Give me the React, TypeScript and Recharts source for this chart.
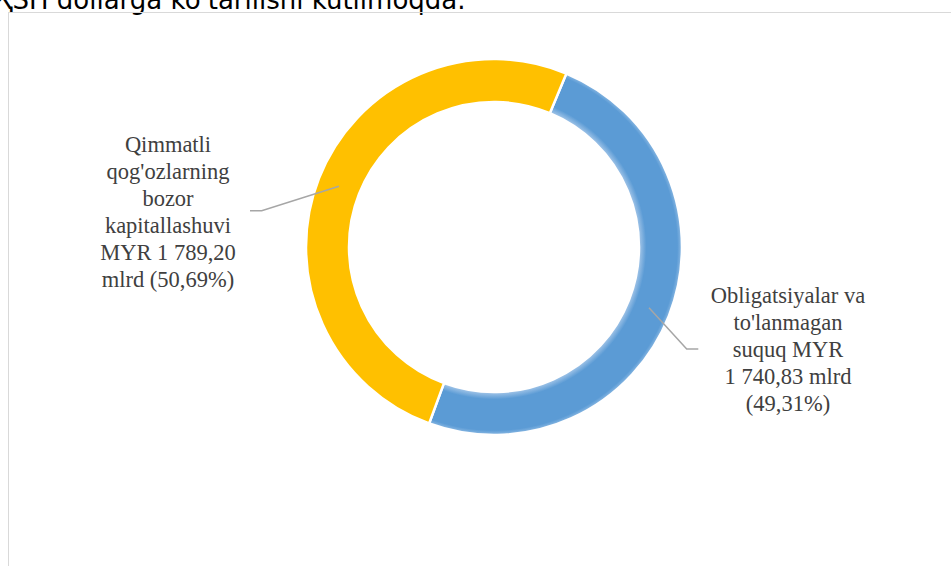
import { PieChart, Pie, Cell } from 'recharts';

// shares of the Malaysian capital market, MYR bn
const categories = ['Obligatsiyalar', 'Qimmatli qog\'ozlar'];
const values = [1740.83, 1789.2];
const labelLines = [
  ['Obligatsiyalar va', 'to\'lanmagan', 'suquq MYR', '1 740,83 mlrd', '(49,31%)'],
  ['Qimmatli', 'qog\'ozlarning', 'bozor', 'kapitallashuvi', 'MYR 1 789,20', 'mlrd (50,69%)'],
];
const colors = ['url(#blueGlow)', '#FFC000'];

const W = 951;
const H = 566;
const CX = 494;
const CY = 247;
const INNER = 145;
const OUTER = 188;
const START = 67.35; // blue begins ~22.6deg clockwise from 12 o'clock

// where each label block and its leader elbow sit, relative to the pie centre
const labelLayout = [
  { tx: 294, ty: 56.3, elbow: [192.7, 102], end: [204.3, 102] },
  { tx: -326, ty: -95.3, elbow: [-232.3, -36.3], end: [-244, -36.3] },
];

const RAD = Math.PI / 180;

const renderLabel = (props: any) => {
  const { cx, cy, midAngle, innerRadius, outerRadius, index } = props;
  const lay = labelLayout[index];
  const r = (innerRadius + outerRadius) / 2;
  const sx = cx + r * Math.cos(-midAngle * RAD);
  const sy = cy + r * Math.sin(-midAngle * RAD);
  const pts = `${sx},${sy} ${cx + lay.elbow[0]},${cy + lay.elbow[1]} ${cx + lay.end[0]},${cy + lay.end[1]}`;
  return (
    <g key={`lbl-${index}`}>
      <polyline points={pts} fill="none" stroke="#A6A6A6" strokeWidth={1.5} />
      <text
        x={cx + lay.tx}
        y={cy + lay.ty}
        textAnchor="middle"
        fontFamily="'Liberation Serif', 'Times New Roman', serif"
        fontSize={22.5}
        fill="#404040"
      >
        {labelLines[index].map((line, i) => (
          <tspan key={i} x={cx + lay.tx} dy={i === 0 ? 0 : 27}>
            {line}
          </tspan>
        ))}
      </text>
    </g>
  );
};

const data = categories.map((name, i) => ({ name, value: values[i] }));

export default function App() {
  return (
    <div style={{ position: 'fixed', left: 0, top: 0, width: W, height: H, background: '#fff', overflow: 'hidden' }}>
      <svg width={W} height={30} style={{ position: 'absolute', left: 0, top: 0 }}>
        <text
          x={-6}
          y={8.5}
          fontFamily="'DejaVu Sans', Verdana, sans-serif"
          fontSize={26}
          fill="#000"
        >
          ҚSH dollarga ko'tarilishi kutilmoqda.
        </text>
      </svg>
      <div
        style={{
          position: 'absolute',
          left: 8,
          top: 12,
          width: W,
          height: H,
          borderTop: '1.5px solid #D9D9D9',
          borderLeft: '1.5px solid #D9D9D9',
        }}
      />
      <div style={{ position: 'absolute', left: 0, top: 0 }}>
        <PieChart width={W} height={H} margin={{ top: 0, right: 0, bottom: 0, left: 0 }}>
          <defs>
            <radialGradient id="blueGlow" gradientUnits="userSpaceOnUse" cx={CX} cy={CY} r={OUTER}>
              <stop offset="0.77" stopColor="#a9c9ea" />
              <stop offset="0.81" stopColor="#5B9BD5" />
              <stop offset="0.975" stopColor="#5B9BD5" />
              <stop offset="1" stopColor="#8fbbe4" />
            </radialGradient>
          </defs>
          <Pie
            data={data}
            dataKey="value"
            nameKey="name"
            cx={CX}
            cy={CY}
            innerRadius={INNER}
            outerRadius={OUTER}
            startAngle={START}
            endAngle={START - 360}
            stroke="#fff"
            strokeWidth={2.5}
            label={renderLabel}
            labelLine={false}
            isAnimationActive={false}
          >
            {data.map((_, i) => (
              <Cell key={i} fill={colors[i]} />
            ))}
          </Pie>
        </PieChart>
      </div>
    </div>
  );
}
